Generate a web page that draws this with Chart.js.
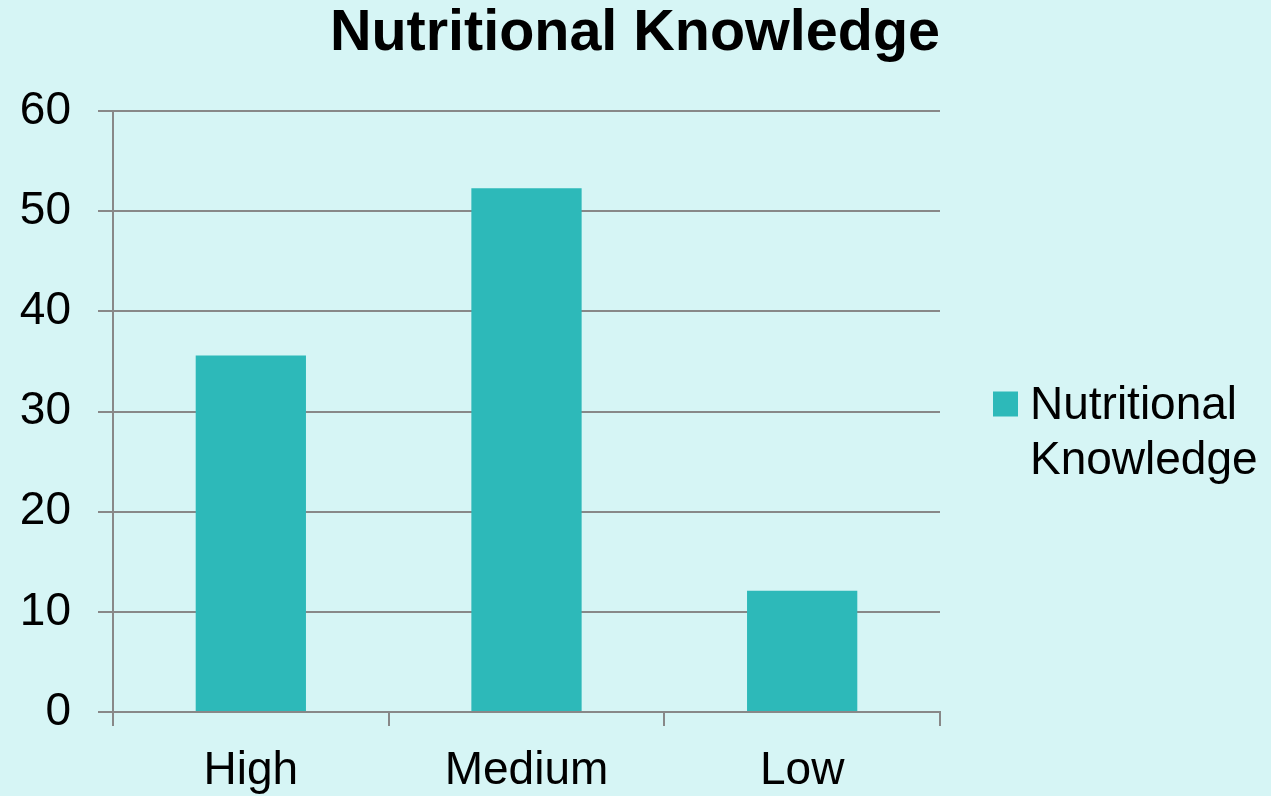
<!DOCTYPE html>
<html>
<head>
<meta charset="utf-8">
<title>Nutritional Knowledge</title>
<script src="https://cdn.jsdelivr.net/npm/chart.js@4/dist/chart.umd.min.js"></script>
<style>
    html, body { margin: 0; padding: 0; background: #d6f5f5; }
    #wrap { width: 1271px; height: 796px; position: relative; background: #d6f5f5; }
</style>
</head>
<body>
<div id="wrap"><canvas id="knowledgeChart"></canvas></div>
<script>
// --- Data ---
const categories = ["High", "Medium", "Low"];
const knowledgeValues = [35.6, 52.3, 12.1];
const seriesLabel = "Nutritional Knowledge";
const yTicks = [0, 10, 20, 30, 40, 50, 60];

// --- Styles ---
const FONT = "'Liberation Sans', Arial, sans-serif";
const BAR_COLOR = "#2db9b9";
const GRID_COLOR = "#888888";

// Legend drawn by hand so the label can wrap onto two lines
const sideLegend = {
    id: 'sideLegend',
    afterDraw(chart) {
        const ctx = chart.ctx;
        const area = chart.chartArea;
        const ds = chart.data.datasets[0];
        const boxX = area.right + 53;
        const midY = (area.top + area.bottom) / 2;
        ctx.save();
        ctx.fillStyle = ds.backgroundColor;
        ctx.fillRect(boxX, midY - 20, 25, 25);
        ctx.fillStyle = "#000";
        ctx.font = `46px ${FONT}`;
        ctx.textAlign = "left";
        ctx.textBaseline = "alphabetic";
        const words = ds.label.split(" ");
        words.forEach((w, i) => {
            ctx.fillText(w, boxX + 37, midY + 7 + i * 55);
        });
        ctx.restore();
    }
};

const ctx = document.getElementById('knowledgeChart').getContext('2d');
const chart = new Chart(ctx, {
    type: 'bar',
    data: {
        labels: categories,
        datasets: [{
            label: seriesLabel,
            data: knowledgeValues,
            backgroundColor: BAR_COLOR,
            borderWidth: 0,
            barPercentage: 0.4,
            categoryPercentage: 1.0
        }]
    },
    options: {
        responsive: true,
        maintainAspectRatio: false,
        animation: false,
        layout: { padding: { left: 17, right: 331, top: 0, bottom: 0 } },
        plugins: {
            legend: { display: false },
            tooltip: { enabled: false },
            title: {
                display: true,
                text: seriesLabel,
                align: 'end',
                color: "#000",
                font: { family: FONT, size: 57.5, weight: 'bold' },
                padding: { top: 0, bottom: 42 }
            }
        },
        scales: {
            x: {
                offset: true,
                grid: {
                    drawOnChartArea: false,
                    drawTicks: true,
                    tickLength: 14,
                    color: GRID_COLOR,
                    lineWidth: 2,
                    offset: true
                },
                border: { display: true, color: GRID_COLOR, width: 2 },
                ticks: {
                    color: "#000",
                    font: { family: FONT, size: 46 },
                    padding: 18,
                    maxRotation: 0
                },
                afterFit: scale => { scale.height = 84; }
            },
            y: {
                min: 0,
                max: 60,
                grid: {
                    color: GRID_COLOR,
                    lineWidth: 2,
                    drawTicks: true,
                    tickLength: 15
                },
                border: { display: true, color: GRID_COLOR, width: 2 },
                afterBuildTicks: scale => {
                    scale.ticks = yTicks.map(v => ({ value: v }));
                },
                ticks: {
                    color: "#000",
                    font: { family: FONT, size: 46 },
                    padding: 27
                },
                afterFit: scale => { scale.width = 96; }
            }
        }
    },
    plugins: [sideLegend]
});
</script>
</body>
</html>
